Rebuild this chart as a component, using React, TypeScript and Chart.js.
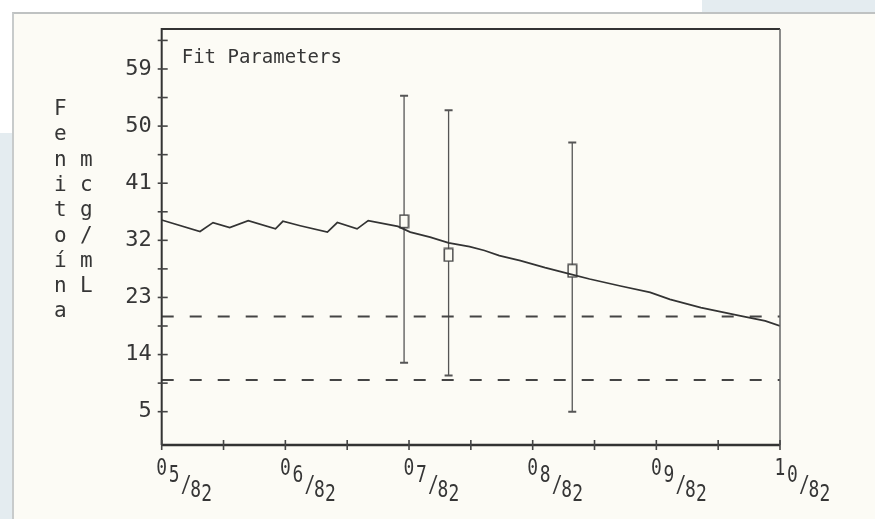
import React, { useEffect, useRef } from "react";
import { Chart, registerables } from "chart.js";

Chart.register(...registerables);

// ---- data ----
const monthLabels = ["05/82", "06/82", "07/82", "08/82", "09/82", "10/82"];
const monthValues = [0, 1, 2, 3, 4, 5];
const xMinorTicks = [0.5, 1.5, 2.5, 3.5, 4.5];
const yTickLabels = [5, 14, 23, 32, 41, 50, 59];
const yMinorTicks = [9.5, 18.5, 27.5, 36.5, 45.5, 54.5, 63.5];

const fitMonths = [0, 0.31, 0.415, 0.55, 0.7, 0.92, 0.98, 1.12, 1.34, 1.42, 1.58, 1.67, 1.91, 2.01, 2.17, 2.32, 2.49, 2.61, 2.73, 2.9, 3.1, 3.32, 3.46, 3.71, 3.95, 4.11, 4.36, 4.68, 4.88, 5.0];
const fitLevels = [35.2, 33.4, 34.8, 34.0, 35.1, 33.8, 35.0, 34.3, 33.3, 34.8, 33.8, 35.1, 34.2, 33.3, 32.5, 31.6, 31.0, 30.4, 29.6, 28.8, 27.7, 26.6, 25.9, 24.8, 23.8, 22.7, 21.4, 20.1, 19.3, 18.5];

const measMonths = [1.96, 2.32, 3.32];
const measLevels = [35.0, 29.7, 27.2];
const measLow = [12.7, 10.7, 5.0];
const measHigh = [54.8, 52.5, 47.4];

const rangeLimits = [20, 10];

const yTitleChars = ["F", "e", "n", "i", "t", "o", "í", "n", "a"];
const yUnitChars = ["m", "c", "g", "/", "m", "L"];
const boxTitle = "Fit Parameters";

const INK = "#363636";
const MONO = "'DejaVu Sans Mono', 'Liberation Mono', monospace";

function makeMarker(): HTMLCanvasElement {
  const c = document.createElement("canvas");
  c.width = 11;
  c.height = 15;
  const g = c.getContext("2d")!;
  g.fillStyle = "#fbfaf3";
  g.fillRect(1, 1, 9, 13);
  g.strokeStyle = "#4a4a4a";
  g.lineWidth = 1.5;
  g.strokeRect(1.25, 1.25, 8.5, 12.5);
  return c;
}

const decorPlugin = {
  id: "decor",
  beforeDatasetsDraw(chart: any) {
    const { ctx, scales } = chart;
    const xs = scales.x;
    const ys = scales.y;
    ctx.save();
    ctx.strokeStyle = "#555";
    measMonths.forEach((m, i) => {
      const px = xs.getPixelForValue(m);
      const pl = ys.getPixelForValue(measLow[i]);
      const ph = ys.getPixelForValue(measHigh[i]);
      ctx.lineWidth = 1.3;
      ctx.beginPath();
      ctx.moveTo(px, pl);
      ctx.lineTo(px, ph);
      ctx.stroke();
      ctx.lineWidth = 2;
      ctx.beginPath();
      ctx.moveTo(px - 4, pl);
      ctx.lineTo(px + 4, pl);
      ctx.moveTo(px - 4, ph);
      ctx.lineTo(px + 4, ph);
      ctx.stroke();
    });
    ctx.restore();
  },
  afterDraw(chart: any) {
    const { ctx, chartArea, scales } = chart;
    const { left, right, top, bottom } = chartArea;
    const xs = scales.x;
    const ys = scales.y;
    ctx.save();
    // frame
    ctx.strokeStyle = "#333";
    ctx.lineWidth = 2;
    ctx.beginPath();
    ctx.moveTo(left, bottom);
    ctx.lineTo(left, top);
    ctx.lineTo(right, top);
    ctx.stroke();
    ctx.lineWidth = 2.5;
    ctx.beginPath();
    ctx.moveTo(left, bottom);
    ctx.lineTo(right, bottom);
    ctx.stroke();
    ctx.strokeStyle = "#666";
    ctx.lineWidth = 1.5;
    ctx.beginPath();
    ctx.moveTo(right, top);
    ctx.lineTo(right, bottom);
    ctx.stroke();

    // tick marks crossing axes
    ctx.strokeStyle = "#444";
    ctx.lineWidth = 1.6;
    ys.ticks.forEach((t: any) => {
      const py = ys.getPixelForValue(t.value);
      ctx.beginPath();
      ctx.moveTo(left - 4, py);
      ctx.lineTo(left + 6, py);
      ctx.stroke();
    });
    xs.ticks.forEach((t: any) => {
      const px = xs.getPixelForValue(t.value);
      ctx.beginPath();
      ctx.moveTo(px, bottom - 5);
      ctx.lineTo(px, bottom + 5);
      ctx.stroke();
    });

    // x labels in staggered plotter style
    const dx = [0, 12.5, 24.5, 34, 45];
    const dy = [0, 7.5, 17, 22, 26];
    ctx.fillStyle = INK;
    ctx.font = `23px ${MONO}`;
    ctx.textAlign = "center";
    ctx.textBaseline = "middle";
    monthValues.forEach((m, i) => {
      const px = xs.getPixelForValue(m);
      const chars = monthLabels[i].split("");
      chars.forEach((ch, j) => {
        ctx.save();
        ctx.translate(px + dx[j], bottom + 24 + dy[j]);
        ctx.scale(0.78, 1);
        ctx.fillText(ch, 0, 0);
        ctx.restore();
      });
    });

    // y title, stacked vertically
    ctx.font = `21px ${MONO}`;
    ctx.textBaseline = "alphabetic";
    const pitch = 25.3;
    yTitleChars.forEach((ch, i) => {
      ctx.fillText(ch, left - 101.5, top + 86 + i * pitch);
    });
    yUnitChars.forEach((ch, i) => {
      ctx.fillText(ch, left - 75.5, top + 86 + (i + 2) * pitch);
    });

    // box title
    ctx.textAlign = "left";
    ctx.font = `20px ${MONO}`;
    ctx.save();
    ctx.translate(left + 20, top + 34);
    ctx.scale(0.95, 1);
    ctx.fillText(boxTitle, 0, 0);
    ctx.restore();

    ctx.restore();
  },
};

export default function App() {
  const ref = useRef<HTMLCanvasElement>(null);

  useEffect(() => {
    if (!ref.current) return;
    const marker = makeMarker();
    const chart = new Chart(ref.current, {
      type: "line",
      data: {
        datasets: [
          {
            data: fitMonths.map((m, i) => ({ x: m, y: fitLevels[i] })),
            borderColor: "#333",
            borderWidth: 1.7,
            pointRadius: 0,
            tension: 0,
          },
          ...rangeLimits.map((v) => ({
            data: [
              { x: monthValues[0], y: v },
              { x: monthValues[monthValues.length - 1], y: v },
            ],
            borderColor: "#444",
            borderWidth: 2,
            borderDash: [12, 16],
            pointRadius: 0,
          })),
          {
            data: measMonths.map((m, i) => ({ x: m, y: measLevels[i] })),
            showLine: false,
            pointStyle: marker as any,
            pointRadius: 6,
          },
        ] as any,
      },
      options: {
        animation: false,
        responsive: false,
        devicePixelRatio: 1,
        layout: { padding: { left: 0, right: 95, top: 29, bottom: 0 } },
        plugins: { legend: { display: false }, tooltip: { enabled: false } },
        scales: {
          x: {
            type: "linear",
            min: 0,
            max: 5,
            afterBuildTicks: (s: any) => {
              s.ticks = [...monthValues, ...xMinorTicks]
                .sort((a, b) => a - b)
                .map((v) => ({ value: v }));
            },
            ticks: { display: false },
            grid: { display: false, drawTicks: false },
            border: { display: false },
            afterFit: (s: any) => {
              s.height = 74;
            },
          },
          y: {
            type: "linear",
            min: -0.25,
            max: 65.3,
            afterBuildTicks: (s: any) => {
              s.ticks = [...yTickLabels, ...yMinorTicks]
                .sort((a, b) => a - b)
                .map((v) => ({ value: v }));
            },
            ticks: {
              autoSkip: false,
              padding: 10,
              color: INK,
              font: { family: MONO, size: 22 },
              callback: (v: any) => (yTickLabels.includes(Number(v)) ? String(v) : ""),
            },
            grid: { display: false, drawTicks: false },
            border: { display: false },
            afterFit: (s: any) => {
              s.width = 161.7;
            },
          },
        },
      } as any,
      plugins: [decorPlugin],
    });
    return () => chart.destroy();
  }, []);

  return (
    <div style={{ position: "fixed", left: 0, top: 0, width: 875, height: 519, background: "#ffffff", overflow: "hidden" }}>
      <div style={{ position: "absolute", left: 0, top: 133, width: 12, height: 386, background: "#e4ecf0" }} />
      <div style={{ position: "absolute", left: 702, top: 0, width: 173, height: 12, background: "#e4ecf0" }} />
      <div
        style={{
          position: "absolute",
          left: 12,
          top: 12,
          right: 0,
          bottom: 0,
          background: "#fcfbf5",
          borderTop: "2px solid #bfc2c2",
          borderLeft: "2px solid #c8cbcb",
        }}
      />
      <canvas ref={ref} width={875} height={519} style={{ position: "absolute", left: 0, top: 0, display: "block" }} />
    </div>
  );
}
